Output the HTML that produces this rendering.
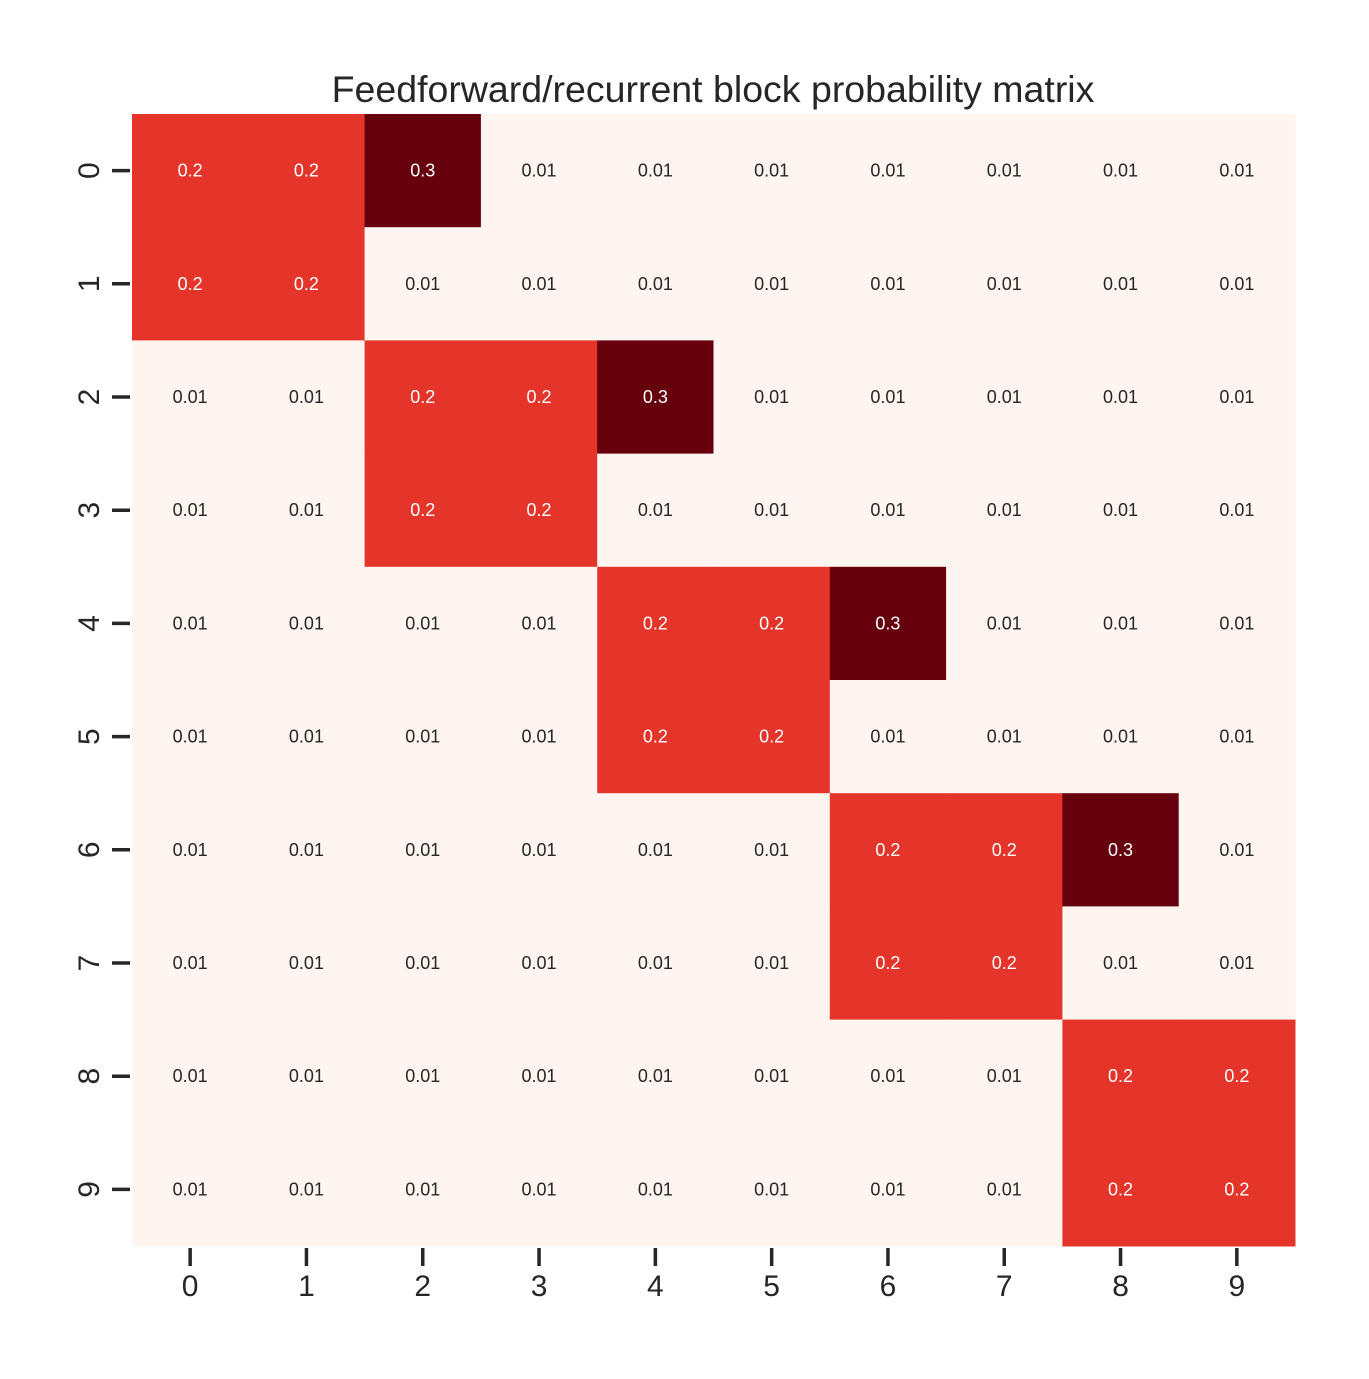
<!DOCTYPE html>
<html><head><meta charset="utf-8"><style>
body{margin:0;background:#fff;}
svg{display:block;font-family:"Liberation Sans",sans-serif;}
</style></head><body>
<svg id="chart" width="1369" height="1379" viewBox="0 0 1369 1379">
<text x="713" y="102" text-anchor="middle" font-size="37.5" fill="#262626">Feedforward/recurrent block probability matrix</text>
<g id="cells"></g><g id="xt"></g><g id="yt"></g>
</svg>
<script>
const rowLabels=["0","1","2","3","4","5","6","7","8","9"];
const colLabels=["0","1","2","3","4","5","6","7","8","9"];
const values=[
[0.2,0.2,0.3,0.01,0.01,0.01,0.01,0.01,0.01,0.01],
[0.2,0.2,0.01,0.01,0.01,0.01,0.01,0.01,0.01,0.01],
[0.01,0.01,0.2,0.2,0.3,0.01,0.01,0.01,0.01,0.01],
[0.01,0.01,0.2,0.2,0.01,0.01,0.01,0.01,0.01,0.01],
[0.01,0.01,0.01,0.01,0.2,0.2,0.3,0.01,0.01,0.01],
[0.01,0.01,0.01,0.01,0.2,0.2,0.01,0.01,0.01,0.01],
[0.01,0.01,0.01,0.01,0.01,0.01,0.2,0.2,0.3,0.01],
[0.01,0.01,0.01,0.01,0.01,0.01,0.2,0.2,0.01,0.01],
[0.01,0.01,0.01,0.01,0.01,0.01,0.01,0.01,0.2,0.2],
[0.01,0.01,0.01,0.01,0.01,0.01,0.01,0.01,0.2,0.2]];
const NS="http://www.w3.org/2000/svg";
const X0=132,X1=1295,Y0=114,Y1=1246;
const cw=(X1-X0)/colLabels.length, ch=(Y1-Y0)/rowLabels.length;
const xs=i=>X0+i*cw, ys=j=>Y0+j*ch;
function color(v){
  const stops=[[0,[255,245,240]],[0.01,[255,245,240]],[0.2,[229,52,42]],[0.3,[103,0,13]]];
  for(let k=1;k<stops.length;k++){if(v<=stops[k][0]){const a=stops[k-1],b=stops[k];const t=(v-a[0])/(b[0]-a[0]||1);
    return 'rgb('+a[1].map((c,i)=>Math.round(c+(b[1][i]-c)*t)).join(',')+')';}}
  return 'rgb(103,0,13)';
}
function mk(tag,attrs,p){const e=document.createElementNS(NS,tag);for(const k in attrs)e.setAttribute(k,attrs[k]);p.appendChild(e);return e;}
const cells=document.getElementById('cells');
values.forEach((row,j)=>row.forEach((v,i)=>{
  const r=mk('rect',{x:xs(i),y:ys(j),width:cw+0.5,height:ch+0.5,fill:color(v)},cells);
  
  
  const t=mk('text',{x:xs(i)+cw/2,y:ys(j)+ch/2+6,'text-anchor':'middle','font-size':'18',fill:v>=0.1?'#fff':'#262626'},cells);
  t.textContent=String(v);
  
  
}));
const xt=document.getElementById('xt');
colLabels.forEach((l,i)=>{
  const cx=xs(i)+cw/2;
  const ln=mk('line',{x1:cx,x2:cx,y1:Y1+2,y2:Y1+20,stroke:'#262626','stroke-width':3.5},xt);
  
  
  const t=mk('text',{x:cx,y:1296,'text-anchor':'middle','font-size':'30',fill:'#262626'},xt);
  t.textContent=l;
  
  
});
const yt=document.getElementById('yt');
rowLabels.forEach((l,j)=>{
  const cy=ys(j)+ch/2;
  const ln=mk('line',{x1:112,x2:130,y1:cy,y2:cy,stroke:'#262626','stroke-width':3.5},yt);
  
  
  const t=mk('text',{x:0,y:0,'text-anchor':'middle','font-size':'30',fill:'#262626',transform:'translate(99,'+cy+') rotate(-90)'},yt);
  t.textContent=l;
  
  
});
</script>
</body></html>
